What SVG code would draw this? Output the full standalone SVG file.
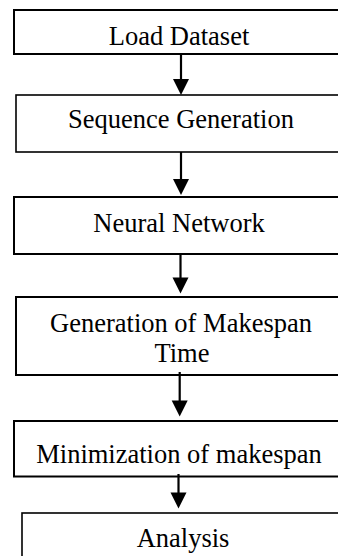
<svg xmlns="http://www.w3.org/2000/svg" width="338" height="556" viewBox="0 0 338 556">
  <style>
    .box { fill: #ffffff; stroke: #000000; stroke-width: 2; }
    .thin { stroke-width: 1.6; }
    .label { font-family: "Liberation Serif", "Times New Roman", serif; font-size: 26.5px; fill: #000000; text-anchor: middle; }
    .link { stroke: #000000; stroke-width: 2.2; fill: none; }
    .head { fill: #000000; }
  </style>
  <rect width="338" height="556" fill="#ffffff"/>

  <g id="load-dataset">
    <rect class="box" x="14" y="10" width="340" height="44"/>
    <text class="label" x="179" y="45">Load Dataset</text>
  </g>

  <g id="sequence-generation">
    <rect class="box thin" x="16" y="95" width="340" height="57"/>
    <text class="label" x="181" y="128">Sequence Generation</text>
  </g>

  <g id="neural-network">
    <rect class="box" x="14" y="197" width="340" height="57"/>
    <text class="label" x="179" y="232">Neural Network</text>
  </g>

  <g id="makespan-generation">
    <rect class="box" x="16" y="297" width="340" height="78"/>
    <text class="label" x="181" y="332">Generation of Makespan</text>
    <text class="label" x="182" y="362">Time</text>
  </g>

  <g id="makespan-minimization">
    <rect class="box" x="14" y="421" width="340" height="55.5"/>
    <text class="label" x="179" y="463">Minimization of makespan</text>
  </g>

  <g id="analysis">
    <rect class="box thin" x="22" y="513" width="340" height="60"/>
    <text class="label" x="183" y="547">Analysis</text>
  </g>

  <g id="connectors">
    <line class="link" x1="181" y1="54" x2="181" y2="80"/>
    <polygon class="head" points="173,79 189,79 181,95"/>

    <line class="link" x1="181" y1="152" x2="181" y2="180"/>
    <polygon class="head" points="173,179 189,179 181,195"/>

    <line class="link" x1="180.5" y1="253" x2="180.5" y2="279"/>
    <polygon class="head" points="172.5,277.5 188.5,277.5 180.5,293.5"/>

    <line class="link" x1="179.7" y1="372" x2="179.7" y2="402"/>
    <polygon class="head" points="171.7,400.5 187.7,400.5 179.7,416.5"/>

    <line class="link" x1="178.5" y1="474" x2="178.5" y2="494"/>
    <polygon class="head" points="170.5,492.5 186.5,492.5 178.5,508.5"/>
  </g>
</svg>
